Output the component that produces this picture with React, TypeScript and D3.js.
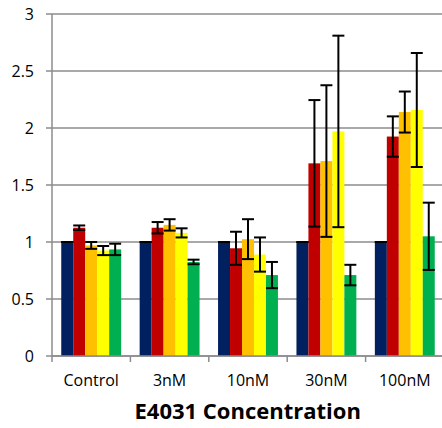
import React from "react";
import * as d3 from "d3";

// Relative response per E4031 concentration, five series per group
const categories = ["Control", "3nM", "10nM", "30nM", "100nM"];
const seriesNames = ["s1", "s2", "s3", "s4", "s5"];
const seriesColors = ["#002060", "#C00000", "#FFC000", "#FFFF00", "#00B050"];

// values[series][category]
const values = [
  [1.0, 1.0, 1.0, 1.0, 1.0],
  [1.125, 1.125, 0.945, 1.69, 1.925],
  [0.97, 1.15, 1.025, 1.71, 2.14],
  [0.925, 1.08, 0.89, 1.97, 2.158],
  [0.935, 0.825, 0.71, 0.71, 1.05],
];
// symmetric error (±) per series and category
const errors = [
  [0, 0, 0, 0, 0],
  [0.02, 0.05, 0.145, 0.555, 0.177],
  [0.03, 0.05, 0.175, 0.665, 0.18],
  [0.04, 0.04, 0.15, 0.84, 0.5],
  [0.05, 0.02, 0.115, 0.09, 0.295],
];
const yTicks = [0, 0.5, 1, 1.5, 2, 2.5, 3];
const yTickLabels = ["0", "0.5", "1", "1.5", "2", "2.5", "3"];
const xTitle = "E4031 Concentration";

const W = 442;
const H = 428;
const left = 52;
const right = 444;
const top = 14;
const bottom = 356;
const font = "'Open Sans', sans-serif";

export default function App() {
  const x = d3.scaleBand<string>().domain(categories).range([left, right]).paddingInner(0.236).paddingOuter(0.118);
  const xs = d3.scaleBand<string>().domain(seriesNames).range([0, x.bandwidth()]);
  const y = d3.scaleLinear().domain([0, 3]).range([bottom, top]);
  const step = (right - left) / categories.length;
  const gridColor = "#8c8c8c";

  return (
    <svg width={W} height={H} style={{ position: "absolute", left: 0, top: 0 }}>
      <rect width={W} height={H} fill="#fff" />
      {/* gridlines and y ticks */}
      {yTicks.map((t, i) => (
        <g key={t}>
          <line x1={left - 6} x2={right} y1={y(t)} y2={y(t)} stroke={gridColor} strokeWidth={1.5} />
          <text x={34} y={y(t)} dy="0.36em" textAnchor="end" fontFamily={font} fontSize={16} fill="#000">
            {yTickLabels[i]}
          </text>
        </g>
      ))}
      {/* bars */}
      {categories.map((c, ci) => (
        <g key={c}>
          {seriesNames.map((s, si) => (
            <rect
              key={s}
              x={(x(c) as number) + (xs(s) as number)}
              y={y(values[si][ci])}
              width={xs.bandwidth()}
              height={y(0) - y(values[si][ci])}
              fill={seriesColors[si]}
            />
          ))}
        </g>
      ))}
      {/* error bars */}
      {categories.map((c, ci) => (
        <g key={c + "-err"}>
          {seriesNames.map((s, si) => {
            const cx = (x(c) as number) + (xs(s) as number) + xs.bandwidth() / 2;
            const v = values[si][ci];
            const e = errors[si][ci];
            const hw = xs.bandwidth() / 2;
            return (
              <g key={s} stroke="#000" strokeWidth={2}>
                <line x1={cx} x2={cx} y1={y(v + e)} y2={y(v - e)} />
                <line x1={cx - hw} x2={cx + hw} y1={y(v + e)} y2={y(v + e)} />
                <line x1={cx - hw} x2={cx + hw} y1={y(v - e)} y2={y(v - e)} />
              </g>
            );
          })}
        </g>
      ))}
      {/* axes */}
      <line x1={left} x2={left} y1={top} y2={bottom} stroke={gridColor} strokeWidth={1.5} />
      <line x1={left} x2={right} y1={bottom} y2={bottom} stroke={gridColor} strokeWidth={1.5} />
      {d3.range(categories.length + 1).map((i) => (
        <line key={i} x1={left + i * step} x2={left + i * step} y1={bottom} y2={bottom + 6} stroke={gridColor} strokeWidth={1.5} />
      ))}
      {categories.map((c) => (
        <text key={c} x={(x(c) as number) + x.bandwidth() / 2} y={386} textAnchor="middle" fontFamily={font} fontSize={16} fill="#000">
          {c}
        </text>
      ))}
      <text x={247.7} y={419} textAnchor="middle" fontFamily={font} fontSize={22} fontWeight="bold" fill="#000">
        {xTitle}
      </text>
    </svg>
  );
}
